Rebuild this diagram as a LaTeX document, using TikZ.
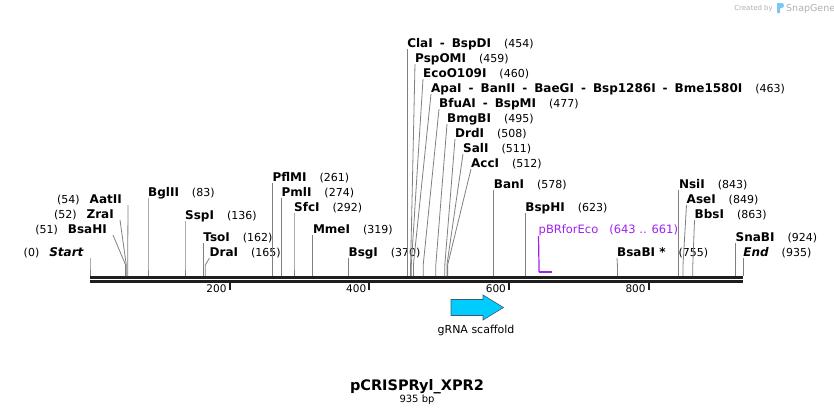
\documentclass[tikz,border=0pt]{standalone}
\usepackage{fontspec}
\setmainfont{DejaVu Sans}
\definecolor{conngray}{RGB}{128,128,128}
\definecolor{primerpurple}{RGB}{160,32,240}
\definecolor{featcyan}{RGB}{0,204,255}
\definecolor{featedge}{RGB}{60,90,110}
\definecolor{bbdark}{RGB}{30,30,30}
\definecolor{wmgray}{RGB}{175,175,175}
\definecolor{wmblue}{RGB}{120,200,240}
\newcommand\nm[1]{{\fontsize{11}{13}\mdseries\selectfont(#1)}}
\newcommand\gp{\hspace{13pt}}
\newcommand\sep{\hspace{7pt}-\hspace{7pt}}
% right-hand label: name, x, baseline, text, site x
\newcommand\rsite[5]{%
  \node[lab,anchor=base west] (#1) at (#2,#3) {#4};
  \coordinate (#1s) at (#5,276);
  \draw[connline] ([yshift=-2pt]#1.base west) -- (#5,265) -- (#1s);}
% left-hand label
\newcommand\lsite[5]{%
  \node[lab,anchor=base east] (#1) at (#2,#3) {#4};
  \coordinate (#1s) at (#5,276);
  \draw[connline] ([xshift=6pt,yshift=-2pt]#1.base east) -- (#5,265) -- (#1s);}
\begin{document}
\begin{tikzpicture}[x=1pt,y=-1pt,
  lab/.style={inner sep=0pt,font=\fontsize{12}{14}\selectfont\bfseries,text=black},
  connline/.style={draw=conngray,line width=0.8pt},
  tickline/.style={draw=bbdark,line width=2pt},
  ticklab/.style={inner sep=0pt,anchor=base east,font=\fontsize{10.5}{12}\selectfont}]
\useasboundingbox (0,0) rectangle (834,415);
% backbone
\coordinate (bbL) at (90,0);
\coordinate (bbR) at (743,0);
\draw[draw=bbdark,line width=2.7pt] (90,277.3) -- (743,277.3);
\draw[draw=bbdark,line width=2.7pt] (90,281.7) -- (743,281.7);
% ticks
\foreach \v/\x in {200/229.7,400/369.4,600/509.1,800/648.8}{
  \draw[tickline] (\x,283) -- (\x,290);
  \node[ticklab] (t\v) at (\x-3,292) {\v};
}
% left labels
\lsite{start}{84}{256}{\nm{0}\hspace{10pt}\textit{Start}}{90}
\lsite{bsahi}{107}{233}{\nm{51}\hspace{10pt}BsaHI}{125.6}
\lsite{zrai}{114}{218}{\nm{52}\hspace{10pt}ZraI}{126.3}
\lsite{aatii}{122}{203}{\nm{54}\hspace{10pt}AatII}{127.7}
% right labels
\rsite{bglii}{148}{196}{BglII\gp\nm{83}}{148}
\rsite{sspi}{185}{219}{SspI\gp\nm{136}}{185}
\rsite{tsoi}{203.2}{241}{TsoI\gp\nm{162}}{203.2}
\rsite{drai}{209.5}{256}{DraI\gp\nm{165}}{205.3}
\rsite{pflmi}{272.3}{181}{PflMI\gp\nm{261}}{272.3}
\rsite{pmli}{281.4}{196}{PmlI\gp\nm{274}}{281.4}
\rsite{sfci}{294}{211}{SfcI\gp\nm{292}}{294}
\rsite{mmei}{312.8}{233}{MmeI\gp\nm{319}}{312.8}
\rsite{bsgi}{348.4}{256}{BsgI\gp\nm{370}}{348.4}
\rsite{clai}{407.1}{47}{ClaI\sep BspDI\gp\nm{454}}{407.1}
\rsite{pspomi}{415}{62}{PspOMI\gp\nm{459}}{410.6}
\rsite{ecoo}{423}{77}{EcoO109I\gp\nm{460}}{411.3}
\rsite{apai}{431}{92}{ApaI\sep BanII\sep BaeGI\sep Bsp1286I\sep Bme1580I\gp\nm{463}}{413.4}
\rsite{bfuai}{439}{107}{BfuAI\sep BspMI\gp\nm{477}}{423.2}
\rsite{bmgbi}{447}{122}{BmgBI\gp\nm{495}}{435.8}
\rsite{drdi}{455}{137}{DrdI\gp\nm{508}}{444.8}
\rsite{sali}{463}{152}{SalI\gp\nm{511}}{446.9}
\rsite{acci}{471}{167}{AccI\gp\nm{512}}{447.6}
\rsite{bani}{493.7}{188}{BanI\gp\nm{578}}{493.7}
\rsite{bsphi}{525.2}{211}{BspHI\gp\nm{623}}{525.2}
\rsite{bsabi}{617}{256}{BsaBI *\gp\nm{755}}{617.4}
\rsite{nsii}{678.8}{188}{NsiI\gp\nm{843}}{678.8}
\rsite{asei}{686.5}{203}{AseI\gp\nm{849}}{683}
\rsite{bbsi}{694.5}{218}{BbsI\gp\nm{863}}{692.8}
\rsite{snabi}{735.4}{241}{SnaBI\gp\nm{924}}{735.4}
\rsite{endl}{743.1}{256}{\textit{End}\gp\nm{935}}{743.1}
% primer
\node[inner sep=0pt,anchor=base west,text=primerpurple,font=\fontsize{11.5}{13}\selectfont] (pbr) at (538.5,233) {pBRforEco\hspace{11pt}(643 .. 661)};
\coordinate (pbrA) at (539.1,272.3);
\coordinate (pbrB) at (551.7,272.3);
\draw[draw=primerpurple,line width=1.2pt] ([yshift=-3pt]pbr.base west) -- (pbrA);
\draw[draw=primerpurple,line width=2.2pt] (pbrA) -- (pbrB);
% feature
\draw[fill=featcyan,draw=featedge,line width=0.6pt] (451,299.5) -- (483,299.5) -- (483,295) -- (503.5,307.5) -- (483,320) -- (483,315.5) -- (451,315.5) -- cycle;
\node[inner sep=0pt,anchor=base,font=\fontsize{11}{13}\selectfont] (grna) at (476,333) {gRNA scaffold};
% title
\node[inner sep=0pt,anchor=base,font=\fontsize{14.5}{17}\selectfont\bfseries] (title) at (417,390) {pCRISPRyl\_XPR2};
\node[inner sep=0pt,anchor=base,font=\fontsize{10}{12}\selectfont] (bp) at (417,402) {935 bp};
% watermark
\node[inner sep=0pt,anchor=base east,text=wmgray,font=\fontsize{7}{8}\selectfont] (wm1) at (773,10.5) {Created by};
\fill[wmblue] (777,3) -- (782,3) .. controls (784.5,3) and (784.5,8) .. (782,8) -- (780,8) -- (780,13) -- (777,13) -- cycle;
\node[inner sep=0pt,anchor=base west,text=wmgray,font=\fontsize{9.5}{11}\selectfont] (wm2) at (786,11) {SnapGene};
\end{tikzpicture}
\end{document}
